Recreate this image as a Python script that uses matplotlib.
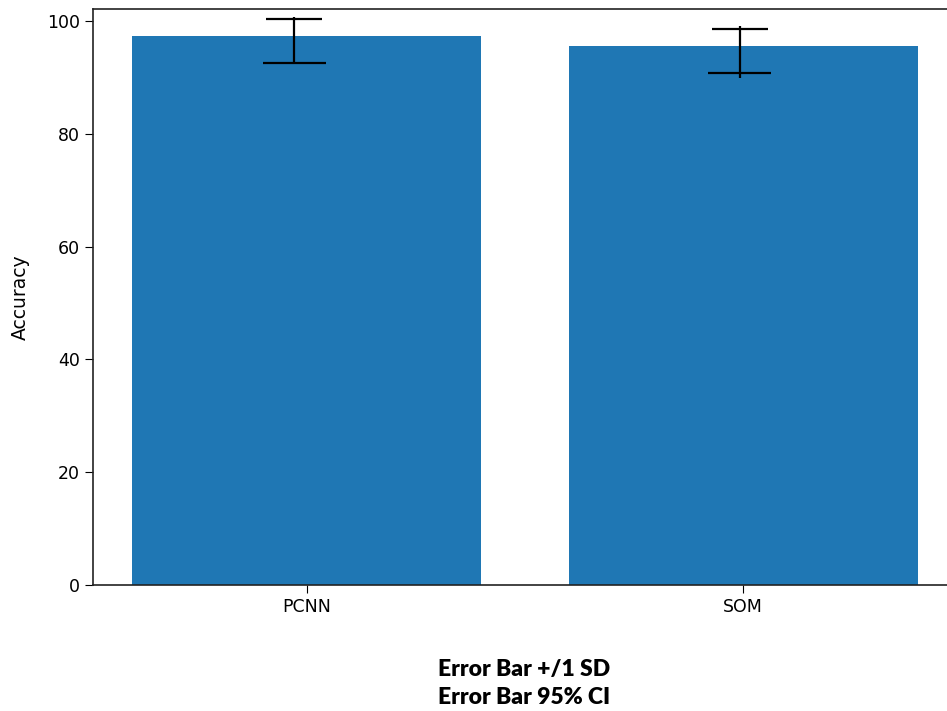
import numpy as np
import matplotlib
matplotlib.use('Agg')
import matplotlib.pyplot as plt

plt.rcParams['font.family'] = ['DejaVu Sans']

# data
models = ['PCNN', 'SOM']
accuracy = [97.4, 95.6]
# +/- 1 SD caps
sd_low = [92.55, 90.8]
sd_high = [100.35, 98.6]
# 95% CI whisker line
ci_low = [92.5, 89.95]
ci_high = [100.8, 99.1]

fig = plt.figure(figsize=(9.47, 7.11), dpi=100)
ax = fig.add_axes([0.0982, 0.1772, 0.9123, 0.8105])

x = np.arange(len(models))
ax.bar(x, accuracy, width=0.8, color='#1f77b4')

# error bars sit a little left of the bar centres in the original
ex = x + np.array([-0.029, -0.008])
ax.vlines(ex, ci_low, ci_high, colors='black', lw=1.6)
ax.hlines(sd_high, ex - 0.064, ex + 0.064, colors='black', lw=1.6)
ax.hlines(sd_low, ex - 0.072, ex + 0.072, colors='black', lw=1.6)

ax.set_xticks(x)
ax.set_xticklabels(models)
ax.set_xlim(-0.49, 1.49)
ax.set_ylim(0, 102.2)
ax.set_ylabel('Accuracy', fontsize=13.5, labelpad=12)
ax.tick_params(labelsize=12.5, length=6)
for s in ax.spines.values():
    s.set_linewidth(1.2)
    s.set_color('#222222')

fig.text(0.553, 0.0387, 'Error Bar +/1 SD\nError Bar 95% CI', ha='center', va='center',
         fontsize=16.5, fontweight='heavy', family='Lato', linespacing=1.42)

fig.savefig('out.png', dpi=100)
